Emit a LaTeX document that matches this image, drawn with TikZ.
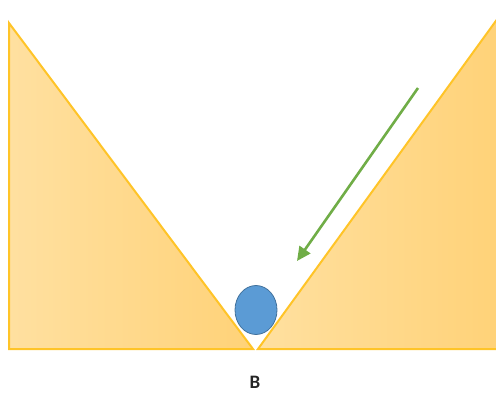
\documentclass[tikz,border=0pt]{standalone}
\usepackage{fontspec}
\setmainfont{Carlito}
\usetikzlibrary{arrows.meta,shapes.geometric}
\definecolor{tribord}{RGB}{255,196,40}
\definecolor{trilight}{RGB}{255,224,160}
\definecolor{tridark}{RGB}{255,210,120}
\definecolor{ballfill}{RGB}{91,155,213}
\definecolor{ballbord}{RGB}{65,113,156}
\definecolor{arrowgreen}{RGB}{112,173,71}
\tikzset{
  wedge/.style={draw=tribord, line width=2pt, line join=miter},
  ball/.style={ellipse, draw=ballbord, fill=ballfill, line width=0.8pt, minimum width=42pt, minimum height=49pt, inner sep=0pt},
  label/.style={font=\bfseries\fontsize{19}{19}\selectfont, text=black!85}
}
\begin{document}
\begin{tikzpicture}[x=1pt,y=-1pt]
\useasboundingbox (0,0) rectangle (496,394);
\fill[left color=trilight, right color=tridark] (9,23) -- (9,349) -- (253,349) -- cycle;
\draw[wedge] (9,23) -- (9,349) -- (253,349) -- cycle;
\fill[left color=trilight, right color=tridark] (258,349) -- (498,18) -- (498,349) -- cycle;
\draw[wedge] (258,349) -- (498,18) -- (498,349) -- cycle;
\node[ball] (ball) at (256,310) {};
\coordinate (arrowstart) at (418,88);
\coordinate (arrowend) at (297,261);
\draw[arrowgreen, line width=2.6pt, -{Triangle[width=13pt,length=14pt]}] (arrowstart) -- (arrowend);
\node[label] (B) at (255,382) {B};
\end{tikzpicture}
\end{document}
